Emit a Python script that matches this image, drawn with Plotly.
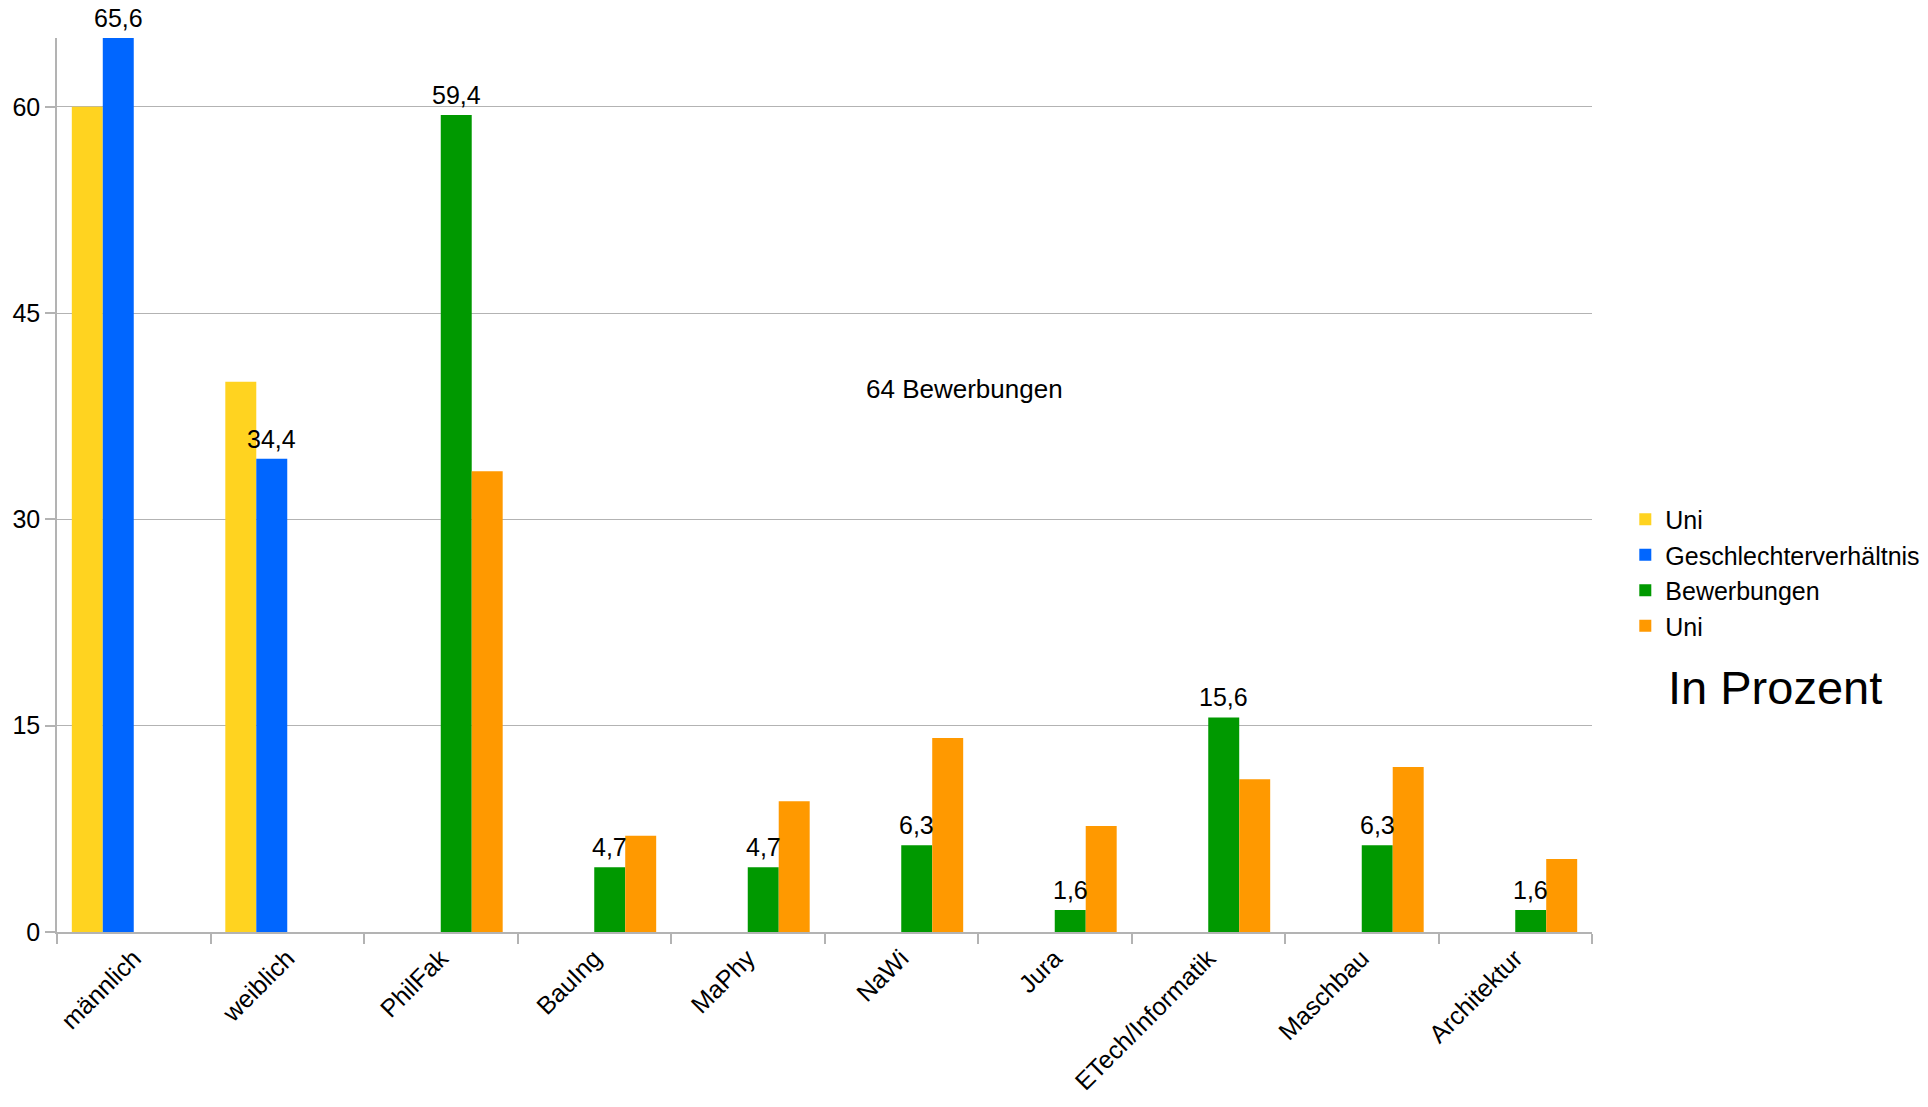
import plotly.graph_objects as go

categories = ["männlich", "weiblich", "PhilFak", "BauIng", "MaPhy", "NaWi", "Jura",
              "ETech/Informatik", "Maschbau", "Architektur"]

uni_gender = [60, 40, None, None, None, None, None, None, None, None]
geschlechterverhaeltnis = [65.6, 34.4, None, None, None, None, None, None, None, None]
bewerbungen = [None, None, 59.4, 4.7, 4.7, 6.3, 1.6, 15.6, 6.3, 1.6]
uni_fak = [None, None, 33.5, 7.0, 9.5, 14.1, 7.7, 11.1, 12.0, 5.3]

y_ticks = [0, 15, 30, 45, 60]
y_max = 65

FONT = "Liberation Sans"
GRID = "#b3b3b3"
BARGAP = 0.193
N_SLOTS = 4


def fmt(v):
    return f"{v:.1f}".replace(".", ",")


fig = go.Figure()
fig.add_trace(go.Bar(name="Uni", x=categories, y=uni_gender,
                     marker=dict(color="#ffd320", line=dict(width=0))))
fig.add_trace(go.Bar(name="Geschlechterverhältnis", x=categories, y=geschlechterverhaeltnis,
                     marker=dict(color="#0066ff", line=dict(width=0))))
fig.add_trace(go.Bar(name="Bewerbungen", x=categories, y=bewerbungen,
                     marker=dict(color="#009900", line=dict(width=0))))
fig.add_trace(go.Bar(name="Uni", x=categories, y=uni_fak,
                     marker=dict(color="#ff9900", line=dict(width=0))))

# slot centres of the grouped bars on a hidden numeric twin of the category axis
slot = (1 - BARGAP) / N_SLOTS
idx = list(range(len(categories)))
fig.add_trace(go.Scatter(x=idx, y=[None] * len(idx), mode="none", xaxis="x2",
                         showlegend=False, hoverinfo="skip"))

# data labels sit above the visible (axis-clipped) end of each bar
annotations = []
for series, slot_index in ((geschlechterverhaeltnis, 1), (bewerbungen, 2)):
    for i, v in zip(idx, series):
        if v is None:
            continue
        annotations.append(dict(
            text=fmt(v), xref="x2", yref="paper",
            x=i + (slot_index + 0.5 - N_SLOTS / 2) * slot, y=min(v, y_max) / y_max,
            xanchor="center", yanchor="bottom", yshift=4, showarrow=False,
            font=dict(family=FONT, size=25, color="black")))

annotations += [
    dict(text="64 Bewerbungen", x=0.591, y=0.607, xref="paper", yref="paper",
         xanchor="center", yanchor="middle",
         showarrow=False, font=dict(family=FONT, size=26, color="black")),
    dict(text="In Prozent", x=1.119, y=0.274, xref="paper", yref="paper",
         xanchor="center", yanchor="middle",
         showarrow=False, font=dict(family=FONT, size=47, color="black")),
]

fig.update_layout(
    width=1928, height=1107,
    margin=dict(l=55, r=336, t=38, b=173),
    paper_bgcolor="white", plot_bgcolor="white",
    barmode="group", bargap=BARGAP, bargroupgap=0,
    separators=",.",
    font=dict(family=FONT, size=25, color="black"),
    legend=dict(xref="container", yref="container", x=0.843, y=0.5514,
                xanchor="left", yanchor="top",
                font=dict(family=FONT, size=25, color="black"),
                bgcolor="rgba(0,0,0,0)"),
    xaxis=dict(type="category", showline=True, linecolor=GRID, linewidth=1.5,
               ticks="outside", tickson="boundaries", ticklen=10,
               tickcolor=GRID, tickwidth=1.5, tickangle=-45, showgrid=False,
               tickfont=dict(family=FONT, size=25, color="black")),
    xaxis2=dict(overlaying="x", anchor="y", range=[-0.5, len(categories) - 0.5],
                visible=False),
    yaxis=dict(range=[0, y_max], tickvals=y_ticks, showline=True, linecolor=GRID,
               linewidth=1.5, ticks="outside", ticklen=10, tickcolor=GRID, tickwidth=1.5,
               showgrid=True, gridcolor=GRID, gridwidth=1, zeroline=False,
               tickfont=dict(family=FONT, size=25, color="black")),
    annotations=annotations,
)

fig.write_html("out.html", config={"displayModeBar": False},
               post_script="document.body.style.margin='0';")
